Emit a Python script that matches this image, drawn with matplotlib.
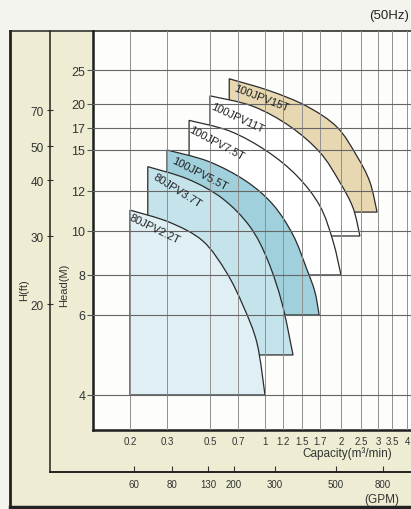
import numpy as np
import matplotlib
matplotlib.use("Agg")
import matplotlib.pyplot as plt
from matplotlib.patches import PathPatch, Rectangle
from matplotlib.path import Path
from matplotlib.lines import Line2D
from matplotlib.ticker import NullLocator

plt.rcParams['font.family'] = ['Liberation Sans', 'DejaVu Sans']

# ---------------- data ----------------
cap_ticks = [0.2, 0.3, 0.5, 0.7, 1, 1.2, 1.5, 1.7, 2, 2.5, 3, 3.5, 4]
cap_tick_labels = ['0.2', '0.3', '0.5', '0.7', '1', '1.2', '1.5', '1.7', '2', '2.5', '3', '3.5', '4']
head_ticks = [4, 6, 8, 10, 12, 15, 17, 20, 25]
ft_ticks = [20, 30, 40, 50, 70]
gpm_ticks = [60, 80, 130, 200, 300, 500, 800]

models = ['100JPV15T', '100JPV11T', '100JPV7.5T', '100JPV5.5T', '80JPV3.7T', '80JPV2.2T']
q_15t = [0.63, 1.05, 1.55, 1.94, 2.39, 2.75, 2.97]
h_15t = [23.6, 21.8, 19.7, 17.1, 14.5, 12.6, 10.9]
q_11t = [0.50, 0.85, 1.30, 1.70, 1.98, 2.29, 2.47]
h_11t = [21.1, 19.7, 17.2, 14.8, 12.6, 11.1, 9.75]
q_7_5t = [0.39, 0.635, 1.02, 1.42, 1.70, 1.88, 2.0]
h_7_5t = [17.9, 16.7, 14.9, 13.0, 11.2, 9.5, 8.0]
q_5_5t = [0.30, 0.49, 0.77, 1.08, 1.35, 1.55, 1.64, 1.69]
h_5_5t = [15.0, 14.1, 12.7, 11.3, 9.8, 8.25, 7.1, 6.0]
q_3_7t = [0.243, 0.385, 0.58, 0.82, 1.03, 1.19, 1.35]
h_3_7t = [13.7, 12.8, 11.6, 10.2, 8.6, 6.5, 4.9]
q_2_2t = [0.20, 0.31, 0.46, 0.61, 0.75, 0.90, 1.0]
h_2_2t = [11.0, 10.4, 9.5, 8.1, 6.4, 5.2, 4.0]

curves_q = [q_15t, q_11t, q_7_5t, q_5_5t, q_3_7t, q_2_2t]
curves_h = [h_15t, h_11t, h_7_5t, h_5_5t, h_3_7t, h_2_2t]

# ---------------- layout / style ----------------
W, H = 411, 510
CAP_TICK_PX = [130, 167, 210, 238, 265, 283, 302, 320, 341, 361, 378, 392, 407]
HEAD_TICK_PX = [396, 316, 276, 232, 192, 151, 129, 105, 71]
FT_TICK_PX = [305, 237, 181, 147, 111]
GPM_TICK_PX = [134, 172, 208, 234, 275, 336, 383]

fills = ['#e8d8b2', '#ffffff', '#ffffff', '#9fd0dc', '#c4e3ea', '#e0eff3']
label_off = [(7, 4), (3, 5), (3, 4), (8, 5), (9, 5), (2, 2)]
label_rot = [21, 25, 28, 27, 32, 26]


def fx(px):
    return px / W


def fy(py):
    return 1 - py / H


def make_scale(vals, pix):
    lv = np.log10(np.asarray(vals, float))
    p = np.asarray(pix, float)
    s0 = (p[1] - p[0]) / (lv[1] - lv[0])
    s1 = (p[-1] - p[-2]) / (lv[-1] - lv[-2])
    lv_e = np.r_[lv[0] - 10, lv, lv[-1] + 10]
    p_e = np.r_[p[0] - 10 * s0, p, p[-1] + 10 * s1]

    def fwd(v):
        v = np.asarray(v, float)
        return np.interp(np.log10(np.clip(v, 1e-12, None)), lv_e, p_e)

    def inv(q):
        return 10 ** np.interp(np.asarray(q, float), p_e, lv_e)
    return fwd, inv


fig = plt.figure(figsize=(W / 100, H / 100), dpi=100)
fig.patch.set_facecolor('#f4f4ef')

fig.add_artist(Rectangle((fx(10), fy(508)), fx(420) - fx(10), fy(32) - fy(508),
                         transform=fig.transFigure, facecolor='#eeedd3',
                         edgecolor='none', zorder=0))

ax = fig.add_axes([fx(93), fy(431), fx(418) - fx(93), fy(32) - fy(431)])
ax.set_facecolor('#fdfdfb')
fxs, ixs = make_scale(cap_ticks, CAP_TICK_PX)
fys, iys = make_scale(head_ticks, -np.asarray(HEAD_TICK_PX, float))
ax.set_xscale('function', functions=(fxs, ixs))
ax.set_yscale('function', functions=(fys, iys))
ax.set_xlim(ixs(93), ixs(418))
ax.set_ylim(iys(-431), iys(-32))


def region_path(q, h):
    # smooth Bezier through the read points, built in scale space
    X = fxs(q)
    Y = fys(h)
    P = np.column_stack([X, Y])
    Pe = np.vstack([P[0], P, P[-1]])
    verts = [(q[0], h[-1]), (q[0], h[0])]
    codes = [Path.MOVETO, Path.LINETO]
    for i in range(len(P) - 1):
        p0, p1, p2, p3 = Pe[i], Pe[i + 1], Pe[i + 2], Pe[i + 3]
        c1 = p1 + (p2 - p0) / 6.0
        c2 = p2 - (p3 - p1) / 6.0
        for c in (c1, c2):
            verts.append((float(ixs(c[0])), float(iys(c[1]))))
        verts.append((q[i + 1], h[i + 1]))
        codes += [Path.CURVE4] * 3
    verts.append((q[0], h[-1]))
    codes.append(Path.CLOSEPOLY)
    return Path(verts, codes)


for name, q, h, fc, off, rot in zip(models, curves_q, curves_h, fills, label_off, label_rot):
    ax.add_patch(PathPatch(region_path(q, h), facecolor=fc, edgecolor='#2b2b2b',
                           lw=0.9, zorder=1))
    ax.annotate(name, xy=(q[0], h[0]), xytext=(off[0] * 0.72, -off[1] * 0.72),
                textcoords='offset points', rotation=-rot, rotation_mode='anchor',
                ha='left', va='top', fontsize=8, color='#222222', zorder=5)

ax.set_xticks(cap_ticks)
ax.set_xticklabels(cap_tick_labels)
ax.set_yticks(head_ticks)
ax.set_yticklabels([str(t) for t in head_ticks])
ax.xaxis.set_minor_locator(NullLocator())
ax.yaxis.set_minor_locator(NullLocator())
ax.set_axisbelow(False)
ax.grid(True, axis='x', color='#8f8f8f', lw=0.7)
ax.grid(True, axis='y', color='#666666', lw=0.8)
ax.tick_params(axis='x', length=0, pad=4, labelsize=7, labelcolor='#333333')
ax.tick_params(axis='y', direction='out', length=4, width=0.8, pad=1.5,
               labelsize=9, labelcolor='#333333', color='#555555')
for s in ['left', 'bottom']:
    ax.spines[s].set_linewidth(1.8)
    ax.spines[s].set_color('#1e1e1e')
ax.spines['top'].set_linewidth(1.1)
ax.spines['top'].set_color('#1e1e1e')
ax.spines['right'].set_visible(False)

# H(ft) axis
ax_ft = fig.add_axes([fx(50), fy(431), 0.0005, fy(32) - fy(431)])
ffs, ifs = make_scale(ft_ticks, -np.asarray(FT_TICK_PX, float))
ax_ft.set_yscale('function', functions=(ffs, ifs))
ax_ft.set_ylim(ifs(-431), ifs(-32))
ax_ft.set_yticks(ft_ticks)
ax_ft.set_yticklabels([str(t) for t in ft_ticks])
ax_ft.yaxis.set_minor_locator(NullLocator())
ax_ft.tick_params(axis='y', direction='inout', length=5, width=0.8, pad=2,
                  labelsize=8.5, labelcolor='#333333', color='#333333')
ax_ft.set_xticks([])
ax_ft.patch.set_visible(False)
for s in ax_ft.spines.values():
    s.set_visible(False)

# GPM axis
ax_g = fig.add_axes([fx(50), fy(473), fx(418) - fx(50), 0.0005])
fgs, igs = make_scale(gpm_ticks, GPM_TICK_PX)
ax_g.set_xscale('function', functions=(fgs, igs))
ax_g.set_xlim(igs(50), igs(418))
ax_g.set_xticks(gpm_ticks)
ax_g.set_xticklabels([str(t) for t in gpm_ticks])
ax_g.xaxis.set_minor_locator(NullLocator())
ax_g.tick_params(axis='x', direction='in', length=4, width=0.8, pad=5,
                 labelsize=7, labelcolor='#333333', color='#333333')
ax_g.set_yticks([])
ax_g.patch.set_visible(False)
for s in ['left', 'right', 'top']:
    ax_g.spines[s].set_visible(False)
ax_g.spines['bottom'].set_linewidth(1.4)
ax_g.spines['bottom'].set_color('#222222')

# frame lines
fig.add_artist(Line2D([fx(10), fx(10)], [fy(32), fy(508)], lw=2.0, color='#222222'))
fig.add_artist(Line2D([fx(10), fx(420)], [fy(508), fy(508)], lw=2.5, color='#222222'))
fig.add_artist(Line2D([fx(10), fx(93)], [fy(32), fy(32)], lw=1.1, color='#222222'))
fig.add_artist(Line2D([fx(50), fx(50)], [fy(32), fy(473)], lw=1.1, color='#222222'))

# texts
fig.text(fx(409), fy(16), '(50Hz)', ha='right', va='center', fontsize=9.5, color='#222222')
fig.text(fx(24), fy(290), 'H(ft)', rotation=90, ha='center', va='center', fontsize=8, color='#333333')
fig.text(fx(64), fy(285), 'Head(M)', rotation=90, ha='center', va='center', fontsize=8, color='#333333')
fig.text(fx(347), fy(454), 'Capacity(m³/min)', ha='center', va='center', fontsize=8.5, color='#333333')
fig.text(fx(382), fy(500), '(GPM)', ha='center', va='center', fontsize=8.5, color='#333333')

fig.savefig('out.png', dpi=100, facecolor=fig.get_facecolor())
